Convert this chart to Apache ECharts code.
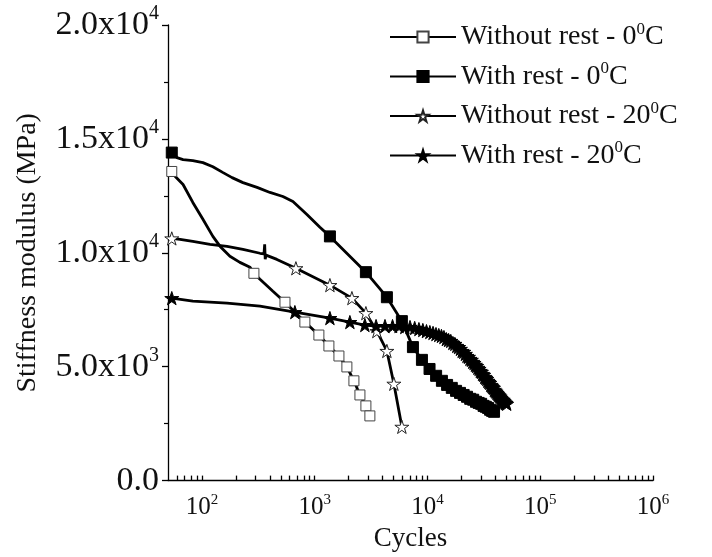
<!DOCTYPE html>
<html><head><meta charset="utf-8">
<script src="https://cdn.jsdelivr.net/npm/echarts@6/dist/echarts.min.js"></script>
<style>html,body{margin:0;padding:0;background:#fff}#c{width:712px;height:557px}</style>
</head><body><div id="c"></div>
<script>
// ---------- labels ----------
const seriesNames = ['Without rest - 0C', 'With rest - 0C', 'Without rest - 20C', 'With rest - 20C'];
const legendLabels = ['{b|Without rest - 0}{sup|0}{b|C}', '{b|With rest - 0}{sup|0}{b|C}', '{b|Without rest - 20}{sup|0}{b|C}', '{b|With rest - 20}{sup|0}{b|C}'];
const yTickValues = [0, 5000, 10000, 15000, 20000];
const yTickLabels = ['{b|0.0}', '{b|5.0x10}{sup|3}', '{b|1.0x10}{sup|4}', '{b|1.5x10}{sup|4}', '{b|2.0x10}{sup|4}'];
const xTickValues = [100, 1000, 10000, 100000, 1000000];
const xTickLabels = ['{b|10}{sup|2}', '{b|10}{sup|3}', '{b|10}{sup|4}', '{b|10}{sup|5}', '{b|10}{sup|6}'];
const xMinorTicks = [60, 70, 80, 90, 200, 300, 400, 500, 600, 700, 800, 900, 2000, 3000, 4000, 5000, 6000, 7000, 8000, 9000,
  20000, 30000, 40000, 50000, 60000, 70000, 80000, 90000, 200000, 300000, 400000, 500000, 600000, 700000, 800000, 900000];
const xAxisName = 'Cycles';
const yAxisName = 'Stiffness modulus (MPa)';

// ---------- data: [cycles, MPa] ----------
// Without rest - 0°C
const wo0Line = [[58, 13350], [68, 13000], [83, 12210], [102, 11470], [125, 10720], [145, 10280], [177, 9850], [217, 9580], [267, 9370], [327, 8840], [426, 8310]];
const wo0Marks = [[54, 13570], [289, 9100], [545, 7830], [818, 6960], [1089, 6390], [1336, 5910], [1640, 5470], [1929, 4990], [2227, 4380], [2518, 3760], [2844, 3280], [3085, 2840]];
// With rest - 0°C
const w0Line = [[60, 14180], [68, 14090], [83, 14050], [102, 13960], [125, 13780], [154, 13520], [185, 13300], [231, 13080], [308, 12870], [401, 12650], [522, 12470], [641, 12250], [853, 11680], [1112, 11120]];
const w0Marks = [[54, 14400], [1364, 10720], [2844, 9150], [4366, 8050], [5929, 7000], [7430, 5860], [8930, 5300], [10430, 4900], [11930, 4600], [13430, 4380], [14930, 4200], [16430, 4070], [17930, 3940], [19430, 3850], [20930, 3760], [22430, 3680], [23930, 3590], [25430, 3550], [26930, 3460], [28430, 3410], [29930, 3370], [31430, 3280], [32930, 3240], [34430, 3190], [35930, 3110], [37430, 3060], [38930, 3020]];
// Without rest - 20°C
const wo20Line = [[64, 10590], [83, 10500], [118, 10370], [167, 10280], [231, 10150], [327, 9980], [355, 9950], [360, 10370], [364, 9720], [370, 9900], [462, 9710]];
const wo20Marks = [[54, 10630], [681, 9320], [1364, 8580], [2138, 8010], [2844, 7350], [3559, 6560], [4366, 5690], [5036, 4250], [5929, 2360]];
// With rest - 20°C
const w20Line = [[83, 7880], [167, 7790], [327, 7660]];
const w20Marks = [[54, 8010], [667, 7395], [1364, 7133], [2051, 6958], [2785, 6827], [3500, 6783], [4200, 6783], [4900, 6783], [5600, 6783], [6300, 6740], [7000, 6740], [7700, 6700], [8400, 6650], [9100, 6610], [9800, 6560], [10500, 6520], [11200, 6480], [11900, 6430], [12600, 6390], [13300, 6350], [14000, 6300], [14700, 6210], [15400, 6170], [16100, 6130], [16800, 6040], [17500, 6000], [18200, 5910], [18900, 5860], [19600, 5780], [20300, 5690], [21000, 5650], [21700, 5560], [22400, 5470], [23100, 5430], [23800, 5340], [24500, 5300], [25200, 5210], [25900, 5160], [26600, 5080], [27300, 5030], [28000, 4950], [28700, 4900], [29400, 4810], [30100, 4770], [30800, 4680], [31500, 4640], [32200, 4550], [32900, 4510], [33600, 4460], [34300, 4380], [35000, 4330], [35700, 4290], [36400, 4200], [37100, 4160], [37800, 4110], [38500, 4070], [39200, 3980], [39900, 3940], [40600, 3900], [41300, 3850], [42000, 3810], [42700, 3760], [43400, 3720], [44100, 3680], [44800, 3630], [45500, 3590], [46200, 3550], [46900, 3540], [47600, 3500], [48300, 3460], [49000, 3410], [49700, 3410], [50400, 3370]];

// ---------- build ----------
const FONT = '"Liberation Serif", "Times New Roman", serif';
const STAR = 'path://M50,0 L61.23,34.55 L97.55,34.55 L68.17,55.9 L79.39,90.45 L50,69.1 L20.61,90.45 L31.83,55.9 L2.45,34.55 L38.77,34.55 Z';
const X_MIN = 50, X_MAX = 1000000;
const xAllTicks = xTickValues.concat(xMinorTicks).sort((a, b) => a - b);

function merge(line, marks) {
  const pts = line.map(p => ({ value: p, symbol: 'none' })).concat(marks.map(p => ({ value: p })));
  pts.sort((a, b) => a.value[0] - b.value[0]);
  return pts;
}
function mk(i, line, marks, symbol, size, fill, border) {
  return {
    name: seriesNames[i], type: 'line', data: merge(line, marks),
    symbol: symbol, symbolSize: size, symbolKeepAspect: true, showSymbol: true, showAllSymbol: true,
    lineStyle: { color: '#000', width: 2.8 },
    itemStyle: { color: fill, borderColor: border, borderWidth: 1 },
    clip: false, z: 2 + i
  };
}

const chart = echarts.init(document.getElementById('c'), null, { renderer: 'canvas' });
chart.setOption({
  animation: false,
  backgroundColor: '#fff',
  grid: { left: 168, right: 59, top: 25, bottom: 75, containLabel: false },
  legend: {
    orient: 'vertical', left: 384, top: 16, itemWidth: 66, itemHeight: 14, itemGap: 9.5,
    data: seriesNames,
    formatter: n => legendLabels[seriesNames.indexOf(n)],
    textStyle: {
      fontFamily: FONT, color: '#111',
      rich: {
        b: { fontFamily: FONT, fontSize: 28, lineHeight: 32, color: '#111' },
        sup: { fontFamily: FONT, fontSize: 17, lineHeight: 17, verticalAlign: 'top', color: '#111' }
      }
    }
  },
  xAxis: {
    type: 'log', logBase: 10, min: X_MIN, max: X_MAX, position: 'bottom',
    axisLine: { show: true, lineStyle: { color: '#000', width: 1.3 } },
    axisTick: { show: true, inside: true, length: 5, customValues: xAllTicks, lineStyle: { color: '#000', width: 1.3 } },
    axisLabel: {
      margin: 12, customValues: xTickValues,
      formatter: v => { const k = xTickValues.findIndex(t => Math.abs(t - v) / t < 1e-6); return k >= 0 ? xTickLabels[k] : ''; },
      rich: {
        b: { fontFamily: FONT, fontSize: 25, lineHeight: 30, color: '#111' },
        sup: { fontFamily: FONT, fontSize: 15, lineHeight: 15, verticalAlign: 'top', color: '#111' }
      }
    },
    splitLine: { show: false },
    name: xAxisName, nameLocation: 'middle', nameGap: 40,
    nameTextStyle: { fontFamily: FONT, fontSize: 27, color: '#111' }
  },
  yAxis: {
    type: 'value', min: 0, max: 20000, interval: 5000,
    axisLine: { show: true, lineStyle: { color: '#000', width: 1.3 } },
    axisTick: { show: true, inside: false, length: 6, lineStyle: { color: '#000', width: 1.3 } },
    minorTick: { show: true, splitNumber: 2, length: 4, lineStyle: { color: '#000', width: 1.2 } },
    axisLabel: {
      margin: 9,
      formatter: v => { const k = yTickValues.indexOf(v); return k >= 0 ? yTickLabels[k] : ''; },
      rich: {
        b: { fontFamily: FONT, fontSize: 34, lineHeight: 42, color: '#111' },
        sup: { fontFamily: FONT, fontSize: 20, lineHeight: 20, verticalAlign: 'top', color: '#111' }
      }
    },
    splitLine: { show: false },
    name: yAxisName, nameLocation: 'middle', nameGap: 126,
    nameTextStyle: { fontFamily: FONT, fontSize: 28, color: '#111' }
  },
  series: [
    mk(0, wo0Line, wo0Marks, 'rect', 10, '#fff', '#444'),
    mk(1, w0Line, w0Marks, 'rect', 11, '#000', '#000'),
    mk(2, wo20Line, wo20Marks, STAR, 14, '#fff', '#222'),
    mk(3, w20Line, w20Marks, STAR, 14, '#000', '#000')
  ]
});
</script>
</body></html>
